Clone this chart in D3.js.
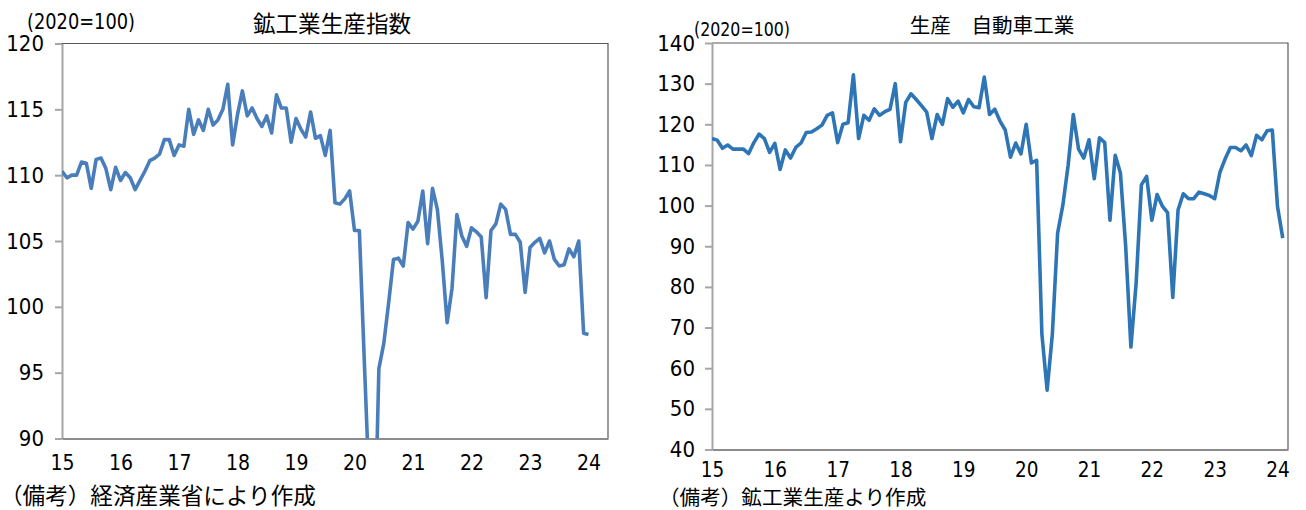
<!DOCTYPE html>
<html>
<head>
<meta charset="utf-8">
<script src="https://cdn.jsdelivr.net/npm/d3@7"></script>
<style>
  body { margin: 0; background: #fff; }
  .num { font-family: "Liberation Sans Narrow", "DejaVu Sans Condensed", "Noto Sans CJK JP", sans-serif; fill: #000; }
  .jp { font-family: "Noto Sans CJK JP", sans-serif; fill: #000; }
</style>
</head>
<body>
<div id="chart"></div>
<script>
// year labels on the x axis (Jan of each year)
const yearLabels = ["15", "16", "17", "18", "19", "20", "21", "22", "23", "24"];

// 鉱工業生産指数, monthly from 2015-01 (2020=100)
const ioIndex = [
  110.3, 109.8, 110.0, 110.0, 111.0, 110.9, 109.0, 111.2, 111.3, 110.5, 108.9, 110.6,
  109.6, 110.2, 109.8, 108.9, 109.6, 110.3, 111.1, 111.3, 111.6, 112.7, 112.7, 111.5,
  112.3, 112.2, 115.0, 113.1, 114.2, 113.4, 115.0, 113.8, 114.2, 115.0, 116.9, 112.3,
  114.6, 116.4, 114.5, 115.1, 114.3, 113.7, 114.5, 113.2, 116.1, 115.1, 115.1, 112.5,
  114.3, 113.5, 112.9, 114.8, 112.8, 113.0, 111.5, 113.4, 107.9, 107.8, 108.2, 108.8,
  105.8, 105.8, 96.0, 86.5, 80.0, 95.3, 97.2, 100.3, 103.6, 103.7, 103.1, 106.4,
  105.9, 106.5, 108.8, 104.8, 109.0, 107.4, 103.5, 98.8, 101.4, 107.0, 105.4, 104.6,
  106.0, 105.7, 105.3, 100.7, 105.8, 106.3, 107.8, 107.4, 105.5, 105.5, 104.9, 101.1,
  104.5, 104.9, 105.2, 104.1, 105.0, 103.6, 103.1, 103.2, 104.4, 103.8, 105.0, 98.0,
  97.9
];

// 生産 自動車工業, monthly from 2015-01 (2020=100)
const autoIndex = [
  116.5, 116.1, 114.1, 114.9, 113.9, 113.9, 113.9, 112.8, 115.5, 117.6, 116.5, 113.1,
  115.3, 108.9, 113.7, 111.7, 114.3, 115.4, 118.0, 118.1, 118.9, 119.8, 122.2, 122.8,
  115.5, 120.0, 120.4, 132.2, 116.5, 122.2, 121.0, 123.8, 122.2, 123.1, 123.7, 130.0,
  115.7, 125.4, 127.5, 126.1, 124.6, 123.0, 116.5, 122.4, 120.0, 126.3, 124.2, 125.7,
  122.8, 126.1, 124.3, 124.1, 131.6, 122.4, 123.7, 120.8, 118.6, 111.9, 115.4, 112.7,
  120.0, 110.5, 111.1, 68.4, 54.6, 68.4, 93.2, 100.1, 109.8, 122.4, 113.9, 111.7,
  116.2, 106.6, 116.7, 115.5, 96.4, 112.4, 108.0, 90.0, 65.2, 81.0, 105.1, 107.2,
  96.4, 102.7, 99.9, 98.3, 77.4, 98.9, 102.9, 101.7, 101.7, 103.3, 102.9, 102.5,
  101.7, 108.2, 111.5, 114.3, 114.3, 113.5, 114.9, 112.3, 117.3, 116.2, 118.4, 118.6,
  99.7, 92.0
];

const ioTicks = [90, 95, 100, 105, 110, 115, 120];
const autoTicks = [40, 50, 60, 70, 80, 90, 100, 110, 120, 130, 140];

const svg = d3.select("#chart").append("svg")
  .attr("width", 1306)
  .attr("height", 510);

function drawPanel(p) {
  const g = svg.append("g");

  const x = d3.scaleLinear().domain([0, p.months]).range([p.left, p.right]);
  const y = d3.scaleLinear().domain([p.ticks[0], p.ticks[p.ticks.length - 1]]).range([p.bottom, p.top]);

  // frame (top / right)
  g.append("path")
    .attr("d", `M${p.left},${p.top}H${p.right}V${p.bottom}`)
    .attr("fill", "none")
    .attr("stroke", "#595959")
    .attr("stroke-width", 1.2);

  // y axis
  const yAxis = g.append("g")
    .attr("transform", `translate(${p.left},0)`)
    .call(d3.axisLeft(y).tickValues(p.ticks).tickSize(7).tickSizeOuter(0).tickPadding(p.yPad));
  yAxis.select(".domain").attr("stroke", "#a6a6a6").attr("stroke-width", 2);
  yAxis.selectAll(".tick line").attr("stroke", "#a6a6a6").attr("stroke-width", 2);
  yAxis.selectAll("text").attr("class", "num").style("font-size", "22px").attr("font-family", null);

  // x axis
  const xAxis = g.append("g")
    .attr("transform", `translate(0,${p.bottom})`)
    .call(d3.axisBottom(x)
      .tickValues(yearLabels.map((d, i) => i * 12))
      .tickFormat((d, i) => yearLabels[i])
      .tickSize(0).tickSizeOuter(0).tickPadding(p.xPad));
  xAxis.select(".domain").attr("stroke", "#8c8c8c").attr("stroke-width", 2);
  xAxis.selectAll("text").attr("class", "num").style("font-size", p.xSize + "px").attr("font-family", null);

  // clip so values below the axis minimum are cut off
  svg.append("clipPath").attr("id", p.id)
    .append("rect")
    .attr("x", p.left).attr("y", p.top)
    .attr("width", p.right - p.left).attr("height", p.bottom - p.top);

  const line = d3.line()
    .x((d, i) => x(i))
    .y(d => y(d));

  g.append("path")
    .datum(p.values)
    .attr("clip-path", `url(#${p.id})`)
    .attr("fill", "none")
    .attr("stroke", p.color)
    .attr("stroke-width", 3.6)
    .attr("stroke-linejoin", "round")
    .attr("d", line);

  // title, unit, note
  g.append("text").attr("class", "jp")
    .attr("x", p.titleX).attr("y", p.titleY)
    .attr("text-anchor", "middle")
    .style("font-size", p.jpSize + "px")
    .text(p.title);

  g.append("text").attr("class", "num")
    .attr("x", p.unitX).attr("y", p.unitY)
    .style("font-size", p.unitSize + "px")
    .attr("textLength", p.unitLen)
    .attr("lengthAdjust", "spacingAndGlyphs")
    .text("(2020=100)");

  g.append("text").attr("class", "jp")
    .attr("x", p.noteX).attr("y", p.noteY)
    .style("font-size", p.jpSize + "px")
    .text(p.note);
}

drawPanel({
  id: "clipL", values: ioIndex, ticks: ioTicks, months: 112,
  left: 62, right: 608, top: 43.5, bottom: 438.5,
  yPad: 11, xPad: 17, xSize: 21, color: "#4a7ebb", jpSize: 22.6,
  title: "鉱工業生産指数", titleX: 332, titleY: 32,
  unitX: 27, unitY: 29, unitSize: 22, unitLen: 108,
  note: "（備考）経済産業省により作成", noteX: 0, noteY: 503.5
});

drawPanel({
  id: "clipR", values: autoIndex, ticks: autoTicks, months: 110,
  left: 712, right: 1288, top: 43, bottom: 449.5,
  yPad: 10, xPad: 12.5, xSize: 20.5, color: "#2e75b6", jpSize: 20.6,
  title: "生産　自動車工業", titleX: 992, titleY: 33,
  unitX: 694, unitY: 36, unitSize: 20, unitLen: 96,
  note: "（備考）鉱工業生産より作成", noteX: 659, noteY: 505
});
</script>
</body>
</html>
